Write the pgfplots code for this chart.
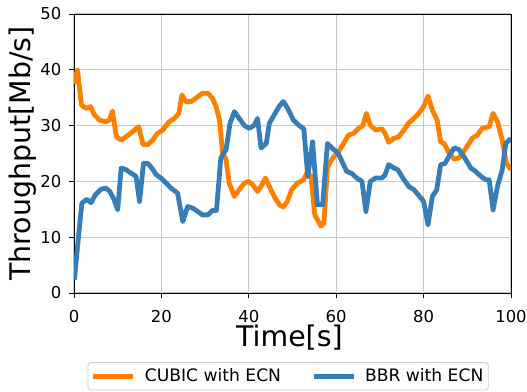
\documentclass[border=0pt]{standalone}
\usepackage{pgfplots}
\pgfplotsset{compat=1.18}
\usepackage{fontspec}
\setmainfont{DejaVu Sans}
\definecolor{cubic}{HTML}{FF7F00}
\definecolor{bbr}{HTML}{377EB8}
\begin{document}
\begin{tikzpicture}
\path[use as bounding box] (-74bp,-99bp) rectangle (453bp,293bp);
\begin{axis}[
  at={(0,0)}, anchor=south west,
  scale only axis, width=437bp, height=279bp,
  xmin=0, xmax=100, ymin=0, ymax=50,
  xtick={0,20,40,60,80,100}, ytick={0,10,20,30,40,50},
  /pgf/number format/assume math mode=true,
  tick label style={font=\fontsize{16.5}{19}\selectfont},
  xticklabel style={anchor=base, yshift=-24bp},
  yticklabel style={anchor=east, inner sep=0pt, xshift=-7.5bp},
  tick align=outside, xtick pos=left, ytick pos=left,
  major tick length=5bp,
  every tick/.style={black, line width=0.8bp},
  grid=major, major grid style={black!22, line width=1.3bp},
  axis line style={black, line width=0.9bp},
  xlabel={Time[s]}, ylabel={Throughput[Mb/s]},
  label style={font=\fontsize{28.5}{32}\selectfont},
  xlabel style={at={(axis description cs:0.493,-0.1935)}, anchor=base},
  ylabel style={at={(axis description cs:-0.117,0.5)}, anchor=center},
  legend columns=2,
  legend style={at={(axis description cs:0.49,-0.2474)}, anchor=north,
    draw=black!20, rounded corners=3bp, line width=0.8bp,
    font=\fontsize{17.2}{20}\selectfont,
    inner xsep=3bp, inner ysep=4.5bp,
    /tikz/every odd column/.append style={column sep=7bp},
    /tikz/every even column/.append style={column sep=28bp}},
  legend image code/.code={\draw[#1, line width=5bp] (0bp,0bp) -- (40bp,0bp);},
  line join=round,
]
\addplot[cubic, line width=4.8bp, line join=round] coordinates {
(0,37.5)(0.8,40)(1.7,33.7)(2.7,33.1)(3.8,33.4)(4.7,31.9)(5.8,31)(7.3,30.7)(8.1,31)(8.8,32.6)(9.7,28)(10.8,27.4)(11.9,28)(13.4,28.9)(14.8,29.8)(15.8,26.6)(16.9,26.6)(18,27.4)(19.1,28.6)(20.3,29.2)(21.8,30.7)(23,31.3)(24,32.2)(24.7,35.5)(25.6,34.3)(26.8,34.3)(27.9,34.9)(29.4,35.8)(30.6,35.8)(31.7,34.9)(32.5,33.4)(33.3,31)(34,25.1)(34.8,23.9)(35.5,19.7)(36.7,17.3)(37.8,18.5)(39,19.7)(40,20)(40.9,19.4)(42,18.2)(42.8,19.1)(43.8,20.6)(44.7,19.1)(45.8,17.3)(47,15.8)(47.9,15.4)(48.8,16.4)(49.8,18.5)(51,19.6)(52.5,20.3)(53.3,21.5)(54.2,21)(55.1,14)(56.5,12)(57.2,12.5)(58,22.5)(59.2,24.2)(60.5,25.3)(61.7,26.8)(62.8,28.3)(64,28.6)(65.1,29.5)(66.1,30)(66.9,32.2)(67.8,30.1)(69,29.2)(70.5,29.4)(71.2,28.6)(72,27)(73.2,27.7)(74.3,28)(75.5,29.2)(76.6,30.5)(77.8,31.3)(78.9,32.2)(80,33.4)(81,35.3)(82,32.8)(83.1,31)(83.9,27.1)(84.8,26.7)(85.8,25.1)(87,24)(88.1,24.2)(89.2,25.4)(90.4,26.8)(91.1,27.7)(92.3,28.3)(93.4,29.5)(95,29.8)(95.9,32.2)(96.9,30.7)(98,27.4)(98.9,23.3)(100,22.1)
};
\addlegendentry{CUBIC with ECN}
\addplot[bbr, line width=4.8bp, line join=round] coordinates {
(0.1,2.4)(1.1,10.7)(1.8,16.1)(2.9,16.8)(3.9,16.2)(4.9,17.6)(6.2,18.6)(7.3,18.8)(8.2,18.2)(9.2,16.7)(10,14.9)(10.8,22.4)(11.9,22.1)(13,21.5)(14.2,20.9)(15,16.4)(15.9,23.2)(16.9,23.2)(17.8,22.4)(18.8,21.2)(19.9,20.6)(21.1,19.7)(22.2,18.8)(23.7,17.9)(24.9,12.8)(26,15.5)(27.2,15.2)(28.3,14.6)(29.4,14)(30.6,14)(31.7,14.8)(32.6,14.8)(33.6,24.2)(34.8,25.7)(35.7,30.4)(36.7,32.5)(37.8,31.3)(39,30)(40.1,29.5)(41.3,30.1)(42,31.3)(42.8,26)(44,26.8)(44.7,30.4)(45.8,31.9)(47,33.5)(47.9,34.3)(48.9,33.1)(50.2,31)(51.4,30.1)(52.6,29.4)(53.5,20.9)(54.6,27.1)(55.7,15.8)(56.9,15.8)(58,26.8)(59,26)(60.5,25)(61.3,23.6)(62.4,21.8)(63.6,21.4)(64.7,20.6)(65.9,20)(66.8,14.6)(67.8,20)(69,20.6)(70.5,20.6)(71.2,21.2)(72,23)(73.2,22.4)(74.1,22.1)(75.5,20.3)(76.6,19.1)(77.8,18.5)(79.1,17.3)(80,16.4)(81,12.2)(82,17.3)(83,18.5)(83.9,23)(84.9,23.2)(85.8,24.5)(87,26)(88.1,25.7)(89.2,24.5)(90.8,22.4)(91.9,21.8)(93.1,20.9)(94.2,20.3)(95,20.3)(95.9,14.9)(96.9,19.1)(98,22.1)(98.8,26.8)(100,27.7)
};
\addlegendentry{BBR with ECN}
\end{axis}
\end{tikzpicture}
\end{document}
